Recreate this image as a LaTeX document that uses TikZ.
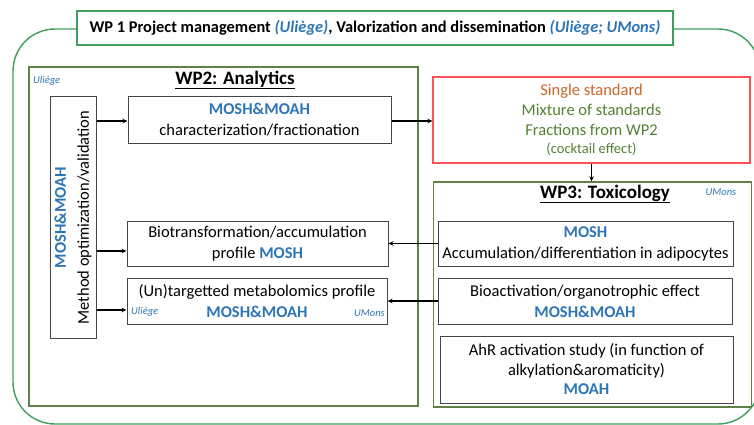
\documentclass[tikz,border=0pt]{standalone}
\usepackage{fontspec}
\setmainfont{Carlito}
\usetikzlibrary{arrows.meta}
\definecolor{blu}{RGB}{46,117,182}
\definecolor{outgreen}{RGB}{63,158,95}
\definecolor{wpgreen}{RGB}{96,128,72}
\definecolor{redline}{RGB}{255,82,82}
\definecolor{orangetxt}{RGB}{204,102,40}
\definecolor{greentxt}{RGB}{84,130,53}
\definecolor{boxgray}{RGB}{70,70,70}
\newcommand{\fs}[2]{\fontsize{#1}{#2}\selectfont}
\begin{document}
\begin{tikzpicture}[x=1pt,y=-1pt,
  box/.style={draw=boxgray, line width=1pt, fill=white, inner sep=0pt,
    align=center, font=\fs{16.5}{21}},
  wpbox/.style={draw=wpgreen, line width=1.4pt},
  tag/.style={text=blu, font=\fs{10.5}{11}\itshape, inner sep=0pt},
  wptitle/.style={font=\fs{19}{21}\bfseries, inner sep=0pt},
  link/.style={line width=1.3pt, -{Stealth[length=5pt,width=4.5pt]}}]
\useasboundingbox (0,0) rectangle (754,425);

% outer frame of WP 1
\draw[outgreen, line width=1.4pt, rounded corners=42pt] (13,29) rectangle (760,424);

% WP 1 title banner
\node[draw=outgreen, line width=1.4pt, fill=white, minimum width=596pt, minimum height=34pt,
  inner sep=0pt, font=\fs{16.4}{18}\bfseries] (wp1) at (375,28)
  {WP 1 Project management \textcolor{blu}{\textit{(Uliège)}}, Valorization and dissemination \textcolor{blu}{\textit{(Uliège; UMons)}}};

% WP2 frame
\draw[wpbox] (29,67) rectangle (418,406);
\node[tag, anchor=west] (tagA) at (33,81) {Uliège};
\node[wptitle] (wp2t) at (235,80) {\underline{WP2: Analytics}};

% method optimization column
\node[box, minimum width=241pt, minimum height=46pt, rotate=90, font=\fs{16.5}{23}] (vb) at (73,217.5)
  {\textcolor{blu}{\textbf{MOSH\&MOAH}}\\Method optimization/validation};

% WP2 boxes
\node[box, minimum width=263pt, minimum height=46pt] (b1) at (259.5,120)
  {\textcolor{blu}{\textbf{MOSH\&MOAH}}\\characterization/fractionation};
\node[box, minimum width=261pt, minimum height=45pt] (b2) at (257.5,243.5)
  {Biotransformation/accumulation\\profile \textcolor{blu}{\textbf{MOSH}}};
\node[box, minimum width=260pt, minimum height=46pt] (b3) at (257,301)
  {(Un)targetted metabolomics profile\\\textcolor{blu}{\textbf{MOSH\&MOAH}}};
\node[tag, anchor=west] (tagB) at (131,312) {Uliège};
\node[tag, anchor=east] (tagC) at (385,313) {UMons};

% test materials
\node[draw=redline, line width=1.2pt, fill=white, minimum width=317pt, minimum height=86pt,
  inner sep=0pt, align=center, font=\fs{16.5}{20}] (mat) at (591.5,120)
  {\textcolor{orangetxt}{Single standard}\\
   \textcolor{greentxt}{Mixture of standards}\\
   \textcolor{greentxt}{Fractions from WP2}\\[-2pt]
   \textcolor{greentxt}{\fs{14.5}{16}(cocktail effect)}};

% WP3 frame
\node[wpbox, minimum width=318pt, minimum height=225pt, inner sep=0pt] (wp3) at (592.5,294.5) {};
\node[wptitle] (wp3t) at (605,194) {\underline{WP3: Toxicology}};
\node[tag] (tagD) at (721,192) {UMons};

% WP3 boxes
\node[box, minimum width=295pt, minimum height=45pt] (t1) at (585.5,243.5)
  {\textcolor{blu}{\textbf{MOSH}}\\Accumulation/differentiation in adipocytes};
\node[box, minimum width=294pt, minimum height=46pt] (t2) at (585,301)
  {Bioactivation/organotrophic effect\\\textcolor{blu}{\textbf{MOSH\&MOAH}}};
\node[box, minimum width=293pt, minimum height=67pt, font=\fs{16.5}{19.5}] (t3) at (586.5,369.5)
  {AhR activation study (in function of\\alkylation\&aromaticity)\\\textcolor{blu}{\textbf{MOAH}}};

% connectors
\draw[link] ([yshift=-1pt]vb.south |- b1.west) -- ([yshift=-1pt]b1.west);
\draw[link] ([yshift=-7.5pt]vb.south |- b2.west) -- ([yshift=-7.5pt]b2.west);
\draw[link] ([yshift=-9pt]vb.south |- b3.west) -- ([yshift=-9pt]b3.west);
\draw[link] ([yshift=-1pt]b1.east) -- ([yshift=-1pt]mat.west |- b1.east);
\draw[link] (mat.south) -- (mat.south |- wp3.north);
\draw[link] (t1.west) -- (t1.west -| b2.east);
\draw[link] (t2.west) -- (t2.west -| b3.east);
\end{tikzpicture}
\end{document}
